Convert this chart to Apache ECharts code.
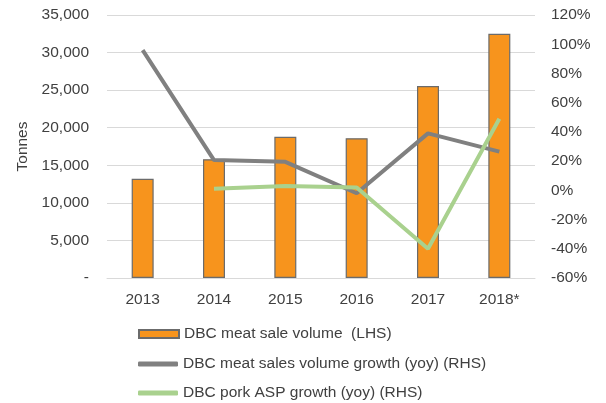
<!DOCTYPE html>
<html><head><meta charset="utf-8">
<script src="https://cdn.jsdelivr.net/npm/echarts@6/dist/echarts.min.js"></script>
<style>html,body{margin:0;padding:0;background:#fff}#c{width:606px;height:403px}</style>
</head><body><div id="c"></div>
<script>
const categories = ['2013','2014','2015','2016','2017','2018*'];
const saleVolume = [13200, 15800, 18800, 18600, 25550, 32500];
const volumeGrowth = [96, 20.7, 19.5, -2, 39, 26.5];
const aspGrowth = [null, 1, 3, 2, -40, 49];
const leftTicks = [0, 5000, 10000, 15000, 20000, 25000, 30000, 35000];
const rightTicks = [-60, -40, -20, 0, 20, 40, 60, 80, 100, 120];
const names = ['DBC meat sale volume  (LHS)', 'DBC meat sales volume growth (yoy) (RHS)', 'DBC pork ASP growth (yoy) (RHS)'];

const font = 'Liberation Sans, Arial, sans-serif';
const fs = 15.5;
const txt = '#404040';
const lt = {color: txt, fontFamily: font, fontSize: fs};
const chart = echarts.init(document.getElementById('c'));
chart.setOption({
  animation: false,
  grid: {left: 107, right: 71, top: 15, bottom: 125},
  xAxis: {
    type: 'category', data: categories,
    axisTick: {show: false},
    axisLine: {lineStyle: {color: '#d9d9d9'}},
    axisLabel: Object.assign({margin: 14}, lt)
  },
  yAxis: [{
    type: 'value', min: leftTicks[0], max: leftTicks[leftTicks.length-1], interval: 5000,
    name: 'Tonnes', nameLocation: 'middle', nameGap: 76, nameRotate: 90,
    nameTextStyle: lt,
    axisLine: {show: false}, axisTick: {show: false},
    splitLine: {lineStyle: {color: '#d9d9d9', width: 1}},
    axisLabel: Object.assign({margin: 18,
      formatter: v => v === 0 ? '-' : v.toLocaleString('en-US')}, lt)
  }, {
    type: 'value', min: rightTicks[0], max: rightTicks[rightTicks.length-1], interval: 20,
    axisLine: {show: false}, axisTick: {show: false}, splitLine: {show: false},
    axisLabel: Object.assign({margin: 16, formatter: v => v + '%'}, lt)
  }],
  legend: [{
    left: 133, top: 321, itemWidth: 40, itemHeight: 8, textStyle: lt,
    data: [{name: names[0], icon: 'rect'}]
  }, {
    left: 133, top: 351, itemWidth: 40, itemHeight: 5, textStyle: lt,
    data: [{name: names[1], icon: 'roundRect'}]
  }, {
    left: 133, top: 380, itemWidth: 40, itemHeight: 5, textStyle: lt,
    data: [{name: names[2], icon: 'roundRect'}]
  }],
  series: [{
    name: names[0], type: 'bar', data: saleVolume, barWidth: 22,
    itemStyle: {color: '#F7941D', borderColor: '#6b6b6b', borderWidth: 1.2}
  }, {
    name: names[1], type: 'line', yAxisIndex: 1, data: volumeGrowth,
    symbol: 'none', lineStyle: {color: '#808080', width: 4}, itemStyle: {color: '#808080'}
  }, {
    name: names[2], type: 'line', yAxisIndex: 1, data: aspGrowth,
    symbol: 'none', lineStyle: {color: '#A9D18E', width: 4}, itemStyle: {color: '#A9D18E'}
  }]
});
</script></body></html>
